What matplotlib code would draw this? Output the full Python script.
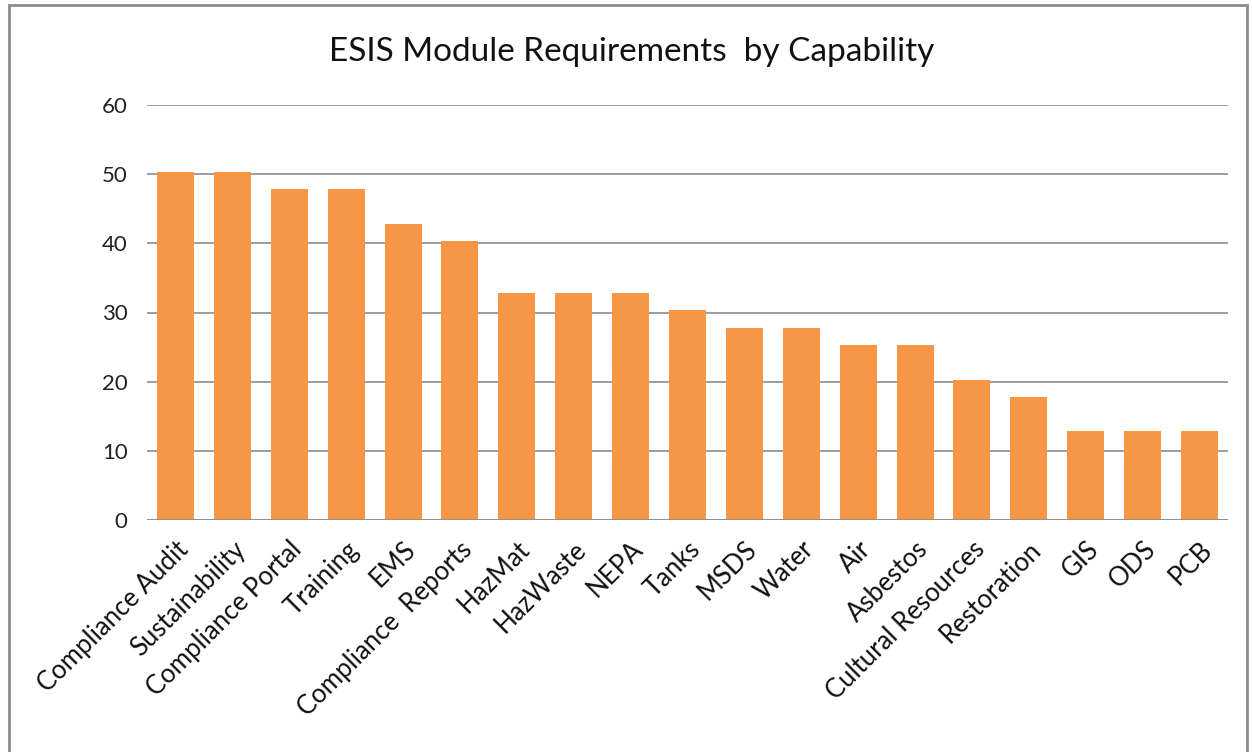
import matplotlib.pyplot as plt
from matplotlib.patches import Rectangle

categories = [
    "Compliance Audit", "Sustainability", "Compliance Portal", "Training",
    "EMS", "Compliance  Reports", "HazMat", "HazWaste", "NEPA", "Tanks",
    "MSDS", "Water", "Air", "Asbestos", "Cultural Resources", "Restoration",
    "GIS", "ODS", "PCB",
]
values = [
    50.3, 50.3, 47.8, 47.8, 42.8, 40.4, 32.8, 32.8, 32.8, 30.4,
    27.8, 27.8, 25.3, 25.3, 20.3, 17.8, 12.8, 12.8, 12.8,
]
yticks = [0, 10, 20, 30, 40, 50, 60]

plt.rcParams["font.family"] = ["Lato", "DejaVu Sans"]

fig = plt.figure(figsize=(12.52, 7.52), dpi=100)
ax = fig.add_axes([147 / 1252, 1 - 520 / 752, 1081 / 1252, 415 / 752])

x = range(len(categories))
ax.bar(x, values, width=0.65, color="#F79646", zorder=3)

ax.set_xlim(-0.5, len(categories) - 0.5)
ax.set_ylim(0, 60)
ax.set_yticks(yticks)
ax.yaxis.grid(True, color="#8c8c8c", linewidth=1.2, zorder=0)
for s in ax.spines.values():
    s.set_visible(False)
ax.axhline(0, color="#8c8c8c", linewidth=1.2, zorder=4)
ax.tick_params(axis="y", length=0, pad=14, labelsize=16, labelcolor="#222222")
ax.tick_params(axis="x", length=0, pad=12)
ax.set_xticks(list(x))
ax.set_xticklabels(categories, rotation=45, ha="right", rotation_mode="anchor",
                   fontsize=18.5, color="#111111")

fig.text(632 / 1252, 1 - 52 / 752, "ESIS Module Requirements  by Capability",
         ha="center", va="center", fontsize=24, color="#111111")

# chart frame
fig.patches.append(Rectangle((9 / 1252, -0.05), 1238 / 1252, 1 - 5 / 752 + 0.05,
                             transform=fig.transFigure, fill=False,
                             edgecolor="#8c8c8c", linewidth=2))

fig.savefig("out.png", dpi=100)
